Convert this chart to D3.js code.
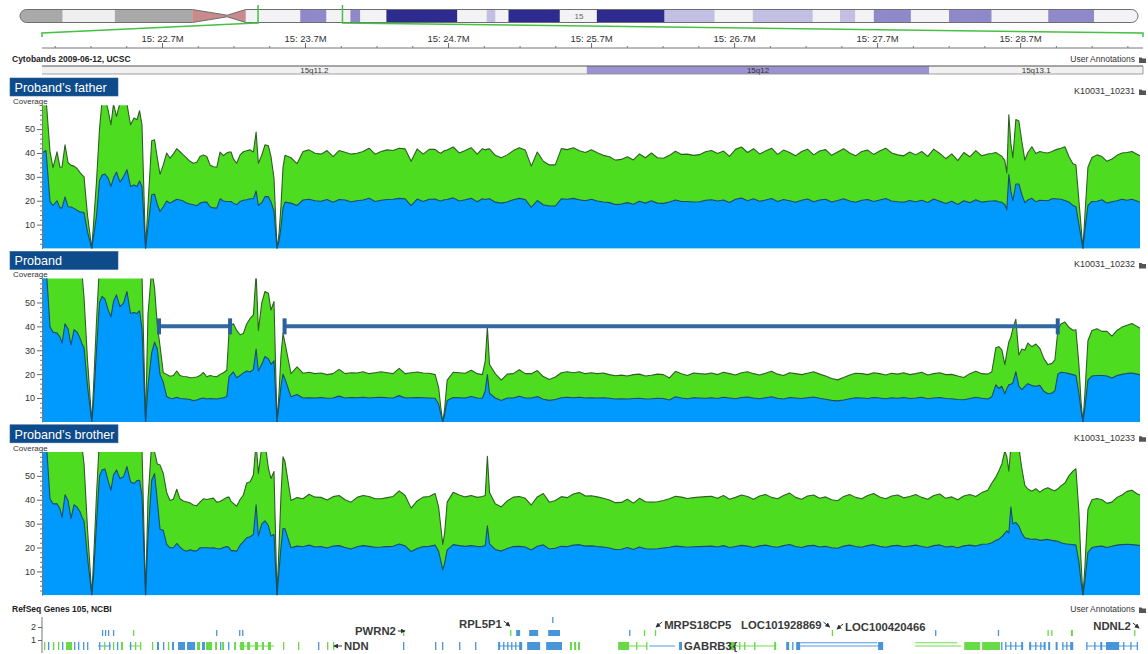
<!DOCTYPE html>
<html>
<head>
<meta charset="utf-8">
<script src="https://cdn.jsdelivr.net/npm/d3@7"></script>
<style>
  body { margin: 0; background: #fff; }
  svg { display: block; font-family: "Liberation Sans", Arial, Helvetica, sans-serif; }
</style>
</head>
<body>
<svg id="chart" width="1148" height="654"></svg>
<script>
// ---------- chromosome 15 ideogram (Mb) ----------
const ideoBandStart = [0, 3.9, 8.7, 15.8, 19.0, 20.7, 25.7, 28.1, 30.3, 31.2, 33.6, 40.1, 42.8, 43.6, 44.8, 49.5, 52.9, 59.1, 63.7, 67.2, 72.7, 75.2, 76.6, 78.3, 81.7, 85.2, 89.1, 94.3, 98.5];
const ideoBandEnd   = [3.9, 8.7, 15.8, 19.0, 20.7, 25.7, 28.1, 30.3, 31.2, 33.6, 40.1, 42.8, 43.6, 44.8, 49.5, 52.9, 59.1, 63.7, 67.2, 72.7, 75.2, 76.6, 78.3, 81.7, 85.2, 89.1, 94.3, 98.5, 102.53];
const ideoBandStain = ['gvar','stalk','gvar','acen','acen','gneg','gpos50','gneg','gpos50','gneg','gpos75','gneg','gpos25','gneg','gpos75','gneg','gpos75','gpos25','gneg','gpos25','gneg','gpos25','gneg','gpos50','gneg','gpos50','gneg','gpos50','gneg'];
const chromLength = 102.53;

// ---------- visible region (kb) and axis ticks ----------
const viewStartKb = 21833, viewEndKb = 29573;
const majorTicksKb = [22700, 23700, 24700, 25700, 26700, 27700, 28700];
const minorTicksKb = [21950, 22200, 22450, 22950, 23200, 23450, 23950, 24200, 24450, 24950, 25200, 25450, 25950, 26200, 26450, 26950, 27200, 27450, 27950, 28200, 28450, 28950, 29200, 29450];

// ---------- cytobands in view ----------
const cytoName  = ['15q11.2', '15q12', '15q13.1'];
const cytoStart = [20700, 25670, 28065];
const cytoEnd   = [25670, 28065, 30300];
const cytoStain = ['gneg', 'gpos50', 'gneg'];

// ---------- coverage bins (kb) ----------
const positionsKb = [
21861,21889,21917,21938,21966,21987,22001,22022,22043,22064,22085,22106,22127,22141,22155,22179,22209,
22221,22242,22263,22281,22301,22323,22343,22361,22382,22406,22431,22455,22480,22504,22525,22543,22560,22585,
22602,22628,22648,22667,22686,22709,22733,22756,22779,22803,22826,22849,22873,22896,22919,22943,22966,22989,23013,23036,23059,23083,23106,23129,23153,23169,23183,23199,23222,23246,23269,23292,23316,23339,23358,23374,23397,23420,23444,23462,23483,23504,
23518,23532,23546,23560,23602,23644,23686,23728,23770,23812,23854,23896,23938,23980,24022,24064,24106,24148,24190,24232,24274,24316,24358,24400,24442,24484,24526,24568,24610,24634,24650,24663,24676,24694,24736,24778,24820,24862,24904,24940,24960,24975,24990,
25030,25072,25114,25156,25198,25240,25282,25324,25366,25408,25450,25492,25534,25576,25618,25660,25702,25744,25786,25828,25870,25912,25954,25996,26038,26080,26122,26164,26206,26248,26290,26332,26374,26416,26458,26500,26542,26584,26626,26668,26710,26752,26794,26836,26878,26920,26962,27004,27046,27088,27130,27172,27214,27256,27298,27340,27382,27424,27466,27508,27550,27592,27634,27676,27718,27760,27802,27844,27886,27928,27970,28012,28054,28096,28138,28180,28222,28264,28306,28348,28390,28432,
28474,28502,28530,28551,28572,28593,28607,28621,28635,28649,28670,28691,28712,28733,28754,28782,28810,28838,28866,28894,28922,28943,28964,28985,29013,29041,29069,29090,29111,29125,29139,
29153,29174,29202,29237,29272,29307,29342,29377,29412,29447,29482,29517,29538];

// total coverage (green) and forward-strand coverage (blue) per sample
const fatherTotal = [
66,63,40.6,33.8,40.5,34,34,43.4,36,34.8,34.5,33.5,31.8,30.8,30,14,0,
10,28,50,62,63,58,51.8,60.5,55.3,61,61,60.5,51.8,54.6,53.9,57.7,51.8,0,
18,45.1,45.5,38,31.1,35,40,37.8,39.5,41.8,40.5,39.2,37.8,36.5,35.7,36.1,38.5,39.2,38.5,35,34.2,34,40.4,38.9,40,40.4,40.4,37.5,35.7,39.2,40.5,40.9,41.3,40.4,48.8,35.7,39,43.4,43,38.5,29.5,0,
6,18,34,39,38,35.5,40.6,41.3,39.9,39.5,41,38.5,41,40.3,39.5,39.9,40.6,42,39.5,40.6,41.3,41,42,41.7,36.5,41.7,39.5,41.5,41.5,40.3,39.9,40.5,41,41.2,42.5,40,41,42.2,39.5,41.8,41.3,41.6,41.7,
39,38,39.2,41,42.2,41.2,34.5,40.4,36.5,35,35,41.8,41.4,42.2,40.9,40.2,41.3,40.1,39,38.4,37,37.3,38.4,37.1,39.6,38,40,38,37.8,39,40.7,39.4,39.5,39,39.3,40.5,41,39.8,40.8,38.6,41.5,42.5,40.2,41.8,39.6,40.8,42,39.4,41.2,40.2,38.8,40.6,41.6,39.2,40.8,41.4,39,40.4,41.8,40,38.8,40.6,41.2,39.4,40.8,42,40,39.2,38.8,40.4,39.2,40.6,38.6,41.6,39.8,37.6,39.6,36.8,40.2,38.4,41,38.8,
39.6,39.8,40.2,39.4,38.6,36.8,31.6,56,44,38,54,53.4,44.8,37,40.2,42.6,39.8,40.6,40.2,40,40.6,41.2,41.6,42,42.6,38.5,35.5,35,20,10,0,
14,34,38.1,39.2,38.5,36.5,37.5,39,40,40.2,40.6,39.5,38.8];
const fatherForward = [
40,41,19.6,18,20,17,17,21.6,17.5,17.4,16.8,16,15.3,15.3,15,7,0,
5,13.5,28.5,30.8,31.2,29.5,26,29.5,32,27.8,30,33,26,26.6,26,28.3,26,0,
9,22.5,22.8,18.5,15.5,17.5,19.9,19,19.8,20.6,20.3,19.9,19,18.6,18.3,17.9,19,19.4,19.4,17.5,17,16.9,20.8,19.9,19.7,19.7,19.7,19,18.3,19.7,20.2,20.4,20.8,20.8,24.1,18,19.2,21.7,21.7,19.5,15.6,0,
3,9,17,19.4,19,18,20.3,20.6,20,19.8,20.5,19.4,20.5,20.3,19.6,20,20.3,21,19.7,20.2,20.5,20.6,21,20.8,18,20.7,19.7,20.6,20.7,20.1,19.9,20.2,20.4,20.5,21.2,19.9,20.4,21,19.6,20.8,20.5,20.7,20.8,
19.4,19,19.5,20.4,21,20.5,17.2,20.1,18.3,17.8,17.8,20.8,20.6,21,20.4,20,20.6,19.9,19.5,19.2,18.4,18.6,19.2,18.5,19.8,19,20,19,18.9,19.5,20.3,19.7,19.7,19.5,19.6,20.2,20.4,19.9,20.3,19.3,20.6,21.1,20,20.8,19.8,20.3,20.9,19.7,20.5,20,19.4,20.2,20.7,19.6,20.3,20.6,19.5,20.1,20.8,19.9,19.4,20.2,20.5,19.7,20.3,20.9,19.9,19.6,19.4,20.1,19.6,20.2,19.3,20.7,19.8,18.8,19.8,18.4,20,19.2,20.4,19.4,
19.8,19.9,20,19.6,19.3,18.4,16.2,31,24,20,27,27,22.5,19.2,20.3,21,19.6,20.2,20.1,20,20.8,20.8,20.7,20.6,20.1,19.5,18,17.5,10,5,0,
8,18,19.7,19.8,20.4,19,19.6,20,20.6,20.2,20.6,19.9,19.4];

const probandTotal = [
70,70,68,67,66,66,66,66,66,66,66,66,65,62,52,26,0,
14,42,66,68,68,66,66,66,67,67,67,67,66,66,66,66,62,0,
45,64,56,40.4,31.9,20.6,19.9,19.1,19.4,21.3,19.4,19,18.9,18.5,18.6,18.8,19.4,20.7,18.9,19.4,19.1,18.9,19.9,20.6,21.6,38,40.4,41.1,38.3,36.5,37,41,43.3,44.8,62,38.3,49.7,54.6,53.9,46.8,50.4,0,
12,28,37,33,20.2,23,20.4,20.8,20.2,20.5,19.8,20.2,22,20.2,20.6,20.5,21,20.2,20.6,21,20.6,20.2,22.4,20.2,20.6,20.9,20.5,20.4,19.8,14.5,5.7,0,5.5,17.5,20.8,20.6,20.4,21.6,20.2,19.8,25.5,39.7,24,
20.2,17.5,20,20.2,21.8,20.2,20.2,21.5,19,17.8,18.8,20.6,21,20.6,21,20.2,20.6,20.2,20.5,19.8,19.3,19.6,19.2,19.8,20,19.2,19.5,20,19.8,18.4,21.2,20.2,19.4,20.5,20.2,20,20.5,19.8,20.8,20.2,19.6,20.6,21,20.2,19.6,20.4,21.2,20,19.4,20.6,20.2,19.8,20.4,21,20,19.2,18.2,17.6,18.6,19.6,20.4,20.2,19.8,20.6,20.2,19.6,20.4,20,20.6,19.8,20.2,20.8,19.6,20.2,20.6,19.8,19.9,19.2,18.6,20.2,21.2,20.2,
20,21,31,31.5,30.2,24,29,33.5,35.5,39.1,43,28,30.5,30,33,31.5,32.6,30.8,26.5,24,24.5,26,38.5,41,41.8,39.6,38.4,38.6,24,9,0,
12,34,38.3,39,37.9,37.9,35.9,38.3,39.7,40.5,41.2,40,39.2];
const probandForward = [
68,66,39.7,37.6,37.2,35.5,33,41.1,39,32.2,38.6,37.6,35,32.6,31,15,0,
8,30,50,52.5,51.5,47,44,50.4,53.2,48.3,49.7,54.6,45.4,45.8,45.4,46.5,39,0,
15,29,33.4,30.5,19.9,16.6,10.6,9.9,9.8,10.3,9.8,9.7,9.6,9.4,8.9,9.2,9.7,10,9.6,9.8,9.7,9.6,9.9,10.1,10.6,19,19.9,20.9,18.5,19.4,20.5,21.3,20.9,22,30.5,21.3,24.1,27.4,26.4,24.1,25.6,0,
7,15,20,18,10.5,11.5,10,10.1,10,10.2,9.9,10,10.8,10,10.2,10.1,10.3,10,10.2,10.3,10.1,10,11,10,10.1,10.2,10.1,10,9.9,7.5,3,0,3,9,10.2,10.1,10,10.6,10,9.9,13,19.8,12,
10,9,10,10,10.7,10,10,10.6,9.5,9,9.4,10.1,10.3,10.1,10.3,10,10.1,10,10.1,9.9,9.6,9.7,9.6,9.8,9.9,9.6,9.7,9.9,9.8,9.2,10.5,10,9.7,10.1,10,9.9,10.1,9.8,10.3,10,9.7,10.2,10.4,10,9.7,10.1,10.5,9.9,9.6,10.2,10,9.8,10.1,10.4,9.9,9.5,9,8.8,9.2,9.7,10.1,10,9.8,10.2,10,9.7,10.1,9.9,10.2,9.8,10,10.3,9.7,10,10.2,9.8,9.7,9.4,9.3,9.8,10.3,9.9,
9.6,10.5,15.5,14,14.9,11.8,14,15.6,15.8,16.3,21,15,13.5,14.9,16,15.2,14.9,15.3,12.8,11.8,12.1,13,20,20.8,20.6,20.2,19.8,19.4,12,5,0,
6,17.5,19.2,19.4,19.4,19.2,18.4,19.4,19.9,20.3,20.5,20,19.7];

const brotherTotal = [
70,70,68,67,66,66,66,66,66,66,66,66,65,62,55,28,0,
14,42,66,68,68,66,66,66,67,67,67,67,66,66,66,66,62,0,
40,64,60,55,54.6,51,43,39.7,40.2,44.4,40.4,39.5,39.1,38.7,37.8,37.5,39,40.4,40.1,40.4,40.7,39,39.3,40.1,41,41.1,39.3,38.5,37.3,40.1,42,47,47.5,50.4,64,51,62,64,53.2,48.9,51.8,0,
20,42,58,56,39.7,40.9,40.4,42.3,41.1,41,39.9,41.3,41.8,40,39,41,41.8,41.4,40.4,40.4,40.9,41.4,43.7,41.8,36.5,39.5,41.1,41.4,42.6,37,28.4,21.3,26,39,43.1,42,41.2,41.8,41,41.4,41.8,58.2,43,
38.3,37,39.5,41.1,41.4,40.6,37.8,41.2,42.6,39,39.7,41.3,40.9,42.4,43,41.6,41.7,41.2,40.6,39.9,38.8,38.9,40.2,38.6,40.6,39.2,39,39.2,39.7,40.4,41.5,41.1,40.5,40.9,41.1,41.3,41.5,40.6,41.8,40.2,41,42,41.4,40.2,41.6,42.2,41,40.4,41.8,42.8,41,40.2,41.6,42,40.6,41.2,40,39.6,41.4,42.2,41,40.4,41.8,42.6,41.2,40.4,41.6,42,40.8,41.4,42.2,41,40.2,41.8,42.4,40.6,41.2,40,41.6,42.2,41.4,43,
44,47,49.5,52,55,60.5,58,52,62,64,64,62,53,46,44.5,43.6,44.6,43.2,44.4,45,44.2,43.8,44.6,45.8,47,50,52,53,35,15,0,
12,36,40,40.5,40,38.5,39,41,42,43.5,44,42.5,42];
const brotherForward = [
68,66,40.4,38.3,38.3,36.2,32.6,42.1,39.7,32.2,37.9,36.9,35,32.6,31,16,0,
8,30,50,52.5,52.9,48,44,50.4,52.5,48.9,49.6,53.9,47.5,46.8,48,48.2,41.8,0,
24,48.2,51,39.7,27.7,27.2,21.3,19.9,19.9,21.7,20.2,19,18.4,19.1,18.6,18.6,19.9,19.9,19.9,19.8,19.9,19.6,19.4,20,20.4,20,18.7,18.7,18.4,21,22.5,24.1,24.5,25.5,37.9,24.8,29.8,31.2,29.1,24.8,25.5,0,
10,20,28,27.8,19.9,20.6,20.3,21,20.2,20.4,19.8,20.6,20.8,20,19.4,20.3,20.8,20.5,20.1,20.2,20.4,20.5,21.5,20.7,18.3,19.6,20.4,20.5,21,18.4,14.2,10.6,13.5,19,21.2,20.8,20.5,20.8,20.4,20.5,20.8,29.1,21.5,
19.2,18.5,19.6,20.4,20.5,20.2,19,20.5,21.1,19.4,19.7,20.5,20.4,21,21.2,20.6,20.7,20.4,20.2,19.8,19.2,19.3,20,19.2,20.2,19.5,19.4,19.5,19.8,20.1,20.6,20.4,20.1,20.3,20.4,20.5,20.6,20.2,20.8,20,20.4,20.9,20.6,20,20.7,21,20.4,20.1,20.8,21.3,20.4,20,20.7,20.9,20.2,20.5,19.9,19.7,20.6,21,20.4,20.1,20.8,21.2,20.5,20.1,20.7,20.9,20.3,20.6,21,20.4,20,20.8,21.1,20.2,20.5,19.9,20.7,21,20.6,21.4,
21.5,22,23,23.5,24.5,26,27,26,37,30,30.5,29,26,24,23.8,23.4,23.6,23,23.2,23.4,23,22.8,22.6,22,21.6,21.4,21.2,21,14,6,0,
6,18,20,20.4,20.6,20,20.5,21,21.2,21.4,21.2,21,20.8];

const sampleNames = ['Proband’s father', 'Proband', 'Proband’s brother'];
const sampleIds   = ['K10031_10231', 'K10031_10232', 'K10031_10233'];
const yTickValues = [10, 20, 30, 40, 50];

// regions flagged on the proband track (kb) at coverage level 40
const cnvStartKb = [22679, 23557];
const cnvEndKb   = [23176, 28963];
const cnvLevel = 40;

// ---------- RefSeq gene parts: [startKb, endKb, row, strand, kind] ----------
const geneParts = [
[21875,21882,0,'m','e'],[21903,21910,0,'p','e'],[21938,21945,0,'m','e'],[21973,21980,0,'m','e'],[22001,22008,0,'p','e'],
[22029,22071,0,'m','e'],[22085,22092,0,'p','e'],[22113,22120,0,'p','e'],[22148,22155,0,'p','e'],[22176,22183,0,'p','e'],
[22253,22343,0,'p','i'],[22260,22267,0,'p','e'],[22295,22302,0,'m','e'],[22330,22337,0,'p','e'],[22357,22364,0,'m','e'],
[22385,22392,0,'p','e'],[22413,22427,0,'m','e'],[22469,22553,0,'m','i'],[22476,22483,0,'p','e'],[22511,22518,0,'m','e'],
[22546,22553,0,'m','e'],[22630,22637,0,'m','e'],[22665,22679,0,'p','e'],[22707,22714,0,'p','e'],[22742,22749,0,'m','e'],
[22770,22784,0,'p','e'],[22812,22861,0,'p','e'],[22875,22931,0,'p','e'],[22945,22966,0,'m','e'],[22980,23000,0,'p','e'],
[23008,23050,0,'m','e'],[23071,23085,0,'m','e'],[23106,23113,0,'p','e'],[23120,23134,0,'m','e'],[23162,23169,0,'p','e'],
[23204,23218,0,'m','e'],[23239,23483,0,'m','i'],[23246,23274,0,'m','e'],[23295,23316,0,'m','e'],[23350,23372,0,'m','e'],
[23399,23413,0,'m','e'],[23441,23462,0,'m','e'],[23546,23553,0,'m','e'],[23651,23658,0,'m','e'],[23791,23798,0,'p','e'],
[23854,23861,0,'m','e'],[23896,23903,0,'m','e'],[24385,24392,0,'p','e'],[24609,24616,0,'p','e'],[24658,24665,0,'p','e'],
[24777,24784,0,'p','e'],[24889,24896,0,'p','e'],[25050,25218,0,'p','i'],[25050,25064,0,'p','e'],[25085,25092,0,'p','e'],
[25113,25120,0,'p','e'],[25141,25148,0,'p','e'],[25169,25176,0,'p','e'],[25197,25218,0,'p','e'],[25253,25344,0,'p','e'],
[25386,25497,0,'p','e'],[25553,25567,0,'m','e'],[25581,25595,0,'m','e'],[25609,25623,0,'m','e'],[25889,25966,0,'m','e'],
[25966,26092,0,'m','i'],[26015,26022,0,'m','e'],[26085,26092,0,'m','e'],[26106,26288,0,'p','i'],[26315,26336,0,'p','e'],
[26658,26994,0,'m','i'],[26665,26700,0,'m','e'],[26735,26742,0,'m','e'],[26770,26777,0,'m','e'],[26840,26847,0,'m','e'],
[26980,26994,0,'m','e'],[27064,27085,0,'p','e'],[27106,27113,0,'p','e'],[27134,27162,0,'p','e'],[27162,27742,0,'p','i'],
[27162,27700,0.25,'p','i'],[27707,27742,0,'p','e'],[27966,28288,0,'m','i'],[27966,28260,0.25,'m','i'],[28309,28420,0,'m','e'],
[28434,28560,0,'m','e'],[28567,28574,0,'p','e'],[28595,28721,0,'p','i'],[28595,28602,0,'p','e'],[28630,28637,0,'p','e'],
[28665,28672,0,'p','e'],[28707,28721,0,'p','e'],[28763,28878,0,'p','i'],[28763,28777,0,'p','e'],[28805,28812,0,'p','e'],
[28840,28847,0,'p','e'],[28864,28878,0,'p','e'],[28896,28910,0,'p','e'],[28948,28962,0,'p','e'],[28994,29071,0,'p','i'],
[28994,29001,0,'p','e'],[29022,29029,0,'p','e'],[29050,29071,0,'p','e'],[29162,29522,0,'p','i'],[29162,29169,0,'p','e'],
[29218,29225,0,'p','e'],[29260,29274,0,'p','e'],[29300,29356,0,'p','e'],[29356,29392,0,'p','e'],[29420,29427,0,'p','e'],
[29470,29477,0,'p','e'],[29515,29522,0,'p','e'],
[22280,22285,1,'p','e'],[22301,22306,1,'p','e'],[22322,22327,1,'p','e'],[22357,22362,1,'p','e'],[22497,22502,1,'m','e'],
[23078,23083,1,'p','e'],[23239,23244,1,'p','e'],[23260,23265,1,'p','e'],[24385,24390,1,'m','e'],[25134,25139,1,'m','e'],
[25176,25204,1,'p','e'],[25267,25330,1,'p','e'],[25400,25483,1,'p','e'],[25966,25971,1,'p','e'],[26069,26074,1,'m','e'],
[26146,26151,1,'m','e'],[27383,27388,1,'m','e'],[28105,28110,1,'p','e'],[28544,28549,1,'p','e'],[28891,28896,1,'m','e'],
[28917,28922,1,'m','e'],[29055,29069,1,'m','e'],[29497,29502,1,'m','e'],
[25428,25434,2,'p','e']];

const geneLabelName = ['NDN', 'PWRN2', 'RPL5P1', 'MRPS18CP5', 'LOC101928869', 'LOC100420466', 'GABRB3', 'NDNL2'];
const geneLabelKb   = [23973, 24050, 24777, 26211, 26749, 27476, 26350, 29211];

// ---------- drawing ----------
const svg = d3.select('#chart');
const defs = svg.append('defs');
defs.append('marker').attr('id', 'arrowHead').attr('viewBox', '0 0 6 6')
  .attr('refX', 5).attr('refY', 3).attr('markerWidth', 5).attr('markerHeight', 5).attr('orient', 'auto')
  .append('path').attr('d', 'M0,0 L6,3 L0,6 Z').attr('fill', '#333');

const x = d3.scaleLinear().domain([viewStartKb, viewEndKb]).range([38, 1145]);
const trackLeft = 42, trackRight = 1143;

function folderIcon(px, py) {
  svg.append('path')
    .attr('d', `M${px},${py} h2.5 l1,1 h3.5 v4.5 h-7 Z`)
    .attr('fill', '#555');
}

// ideogram
const stainColor = { gvar: '#a9a9a9', stalk: '#efefef', acen: '#c98a8e', gneg: '#f3f3f6',
                     gpos25: '#c3bfe2', gpos50: '#8f88c9', gpos75: '#2d2b8d' };
const xi = d3.scaleLinear().domain([0, chromLength]).range([20, 1138]);
const iTop = 9.5, iBot = 22.5, iMid = 16, iR = 6.5;
const cA = xi(15.8), cM = xi(19.0), cB = xi(20.7), iL = xi(0), iE = xi(chromLength);
const chromPath = `M${iL + iR},${iTop} L${cA},${iTop} L${cM},${iMid - 0.8} L${cB},${iTop} L${iE - iR},${iTop}
  A${iR},${iR} 0 0 1 ${iE - iR},${iBot} L${cB},${iBot} L${cM},${iMid + 0.8} L${cA},${iBot} L${iL + iR},${iBot}
  A${iR},${iR} 0 0 1 ${iL + iR},${iTop} Z`;
defs.append('clipPath').attr('id', 'chromClip').append('path').attr('d', chromPath);
svg.append('g').attr('clip-path', 'url(#chromClip)')
  .selectAll('rect').data(ideoBandStart).join('rect')
  .attr('x', (d) => xi(d)).attr('y', iTop)
  .attr('width', (d, k) => xi(ideoBandEnd[k]) - xi(d) + 0.3).attr('height', iBot - iTop)
  .attr('fill', (d, k) => stainColor[ideoBandStain[k]]);
svg.append('path').attr('d', chromPath).attr('fill', 'none').attr('stroke', '#6d6d6d').attr('stroke-width', 1);
svg.append('text').attr('x', xi(chromLength / 2)).attr('y', 19).attr('text-anchor', 'middle')
  .attr('font-size', 8).attr('fill', '#666').text('15');

// highlighted region on the ideogram, fanned out to the track width
const hlColor = '#46c046';
svg.append('path')
  .attr('d', `M${xi(viewStartKb / 1000)},5 V23 L${trackLeft},33 V37`)
  .attr('fill', 'none').attr('stroke', hlColor).attr('stroke-width', 1.5);
svg.append('path')
  .attr('d', `M${xi(viewEndKb / 1000)},5 V23 L${trackRight},33 V37`)
  .attr('fill', 'none').attr('stroke', hlColor).attr('stroke-width', 1.5);

// genomic position axis
const axisY = 48;
svg.append('line').attr('x1', trackLeft).attr('x2', trackRight).attr('y1', axisY).attr('y2', axisY)
  .attr('stroke', '#777');
const majorAxis = svg.append('g').attr('transform', `translate(0,${axisY})`)
  .call(d3.axisTop(x).tickValues(majorTicksKb).tickSize(5).tickSizeOuter(0).tickPadding(1.5)
    .tickFormat((d) => `15: ${(d / 1000).toFixed(1)}M`));
majorAxis.select('.domain').remove();
majorAxis.selectAll('line').attr('stroke', '#666');
majorAxis.selectAll('text').attr('font-size', 9.5).attr('fill', '#333')
  .attr('font-family', '"Liberation Sans", Arial, sans-serif');
const minorAxis = svg.append('g').attr('transform', `translate(0,${axisY})`)
  .call(d3.axisTop(x).tickValues(minorTicksKb).tickSize(2).tickSizeOuter(0).tickFormat(''));
minorAxis.select('.domain').remove();
minorAxis.selectAll('line').attr('stroke', '#777');

// cytoband track
svg.append('text').attr('x', 12).attr('y', 62).attr('font-size', 8.5).attr('font-weight', 'bold')
  .attr('fill', '#222').text('Cytobands 2009-06-12, UCSC');
svg.append('text').attr('x', 1135).attr('y', 62).attr('font-size', 8.5).attr('text-anchor', 'end')
  .attr('fill', '#333').text('User Annotations');
folderIcon(1139, 57.5);
const cytoTop = 66, cytoBot = 74;
const cytoFill = { gneg: '#f1f1f1', gpos50: '#9b92d0' };
const cytoG = svg.append('g');
cytoG.selectAll('rect').data(cytoName).join('rect')
  .attr('x', (d, k) => Math.max(trackLeft, x(cytoStart[k])))
  .attr('width', (d, k) => Math.min(trackRight, x(cytoEnd[k])) - Math.max(trackLeft, x(cytoStart[k])))
  .attr('y', cytoTop).attr('height', cytoBot - cytoTop)
  .attr('fill', (d, k) => cytoFill[cytoStain[k]]);
cytoG.selectAll('text').data(cytoName).join('text')
  .attr('x', (d, k) => (Math.max(trackLeft, x(cytoStart[k])) + Math.min(trackRight, x(cytoEnd[k]))) / 2)
  .attr('y', cytoBot - 1).attr('text-anchor', 'middle').attr('font-size', 8).attr('fill', '#333')
  .text((d) => d);
svg.append('line').attr('x1', trackLeft).attr('x2', trackRight).attr('y1', cytoTop).attr('y2', cytoTop)
  .attr('stroke', '#555').attr('stroke-width', 1.2);
svg.append('line').attr('x1', trackLeft).attr('x2', trackRight).attr('y1', cytoBot).attr('y2', cytoBot)
  .attr('stroke', '#888').attr('stroke-width', 0.8);
svg.append('line').attr('x1', trackRight).attr('x2', trackRight).attr('y1', cytoTop).attr('y2', cytoBot)
  .attr('stroke', '#888').attr('stroke-width', 0.8);

// coverage panels
const totals = [fatherTotal, probandTotal, brotherTotal];
const forwards = [fatherForward, probandForward, brotherForward];
const panelStep = 173.4;
const greenFill = '#4ddc20', greenLine = '#2d5f22';
const blueFill = '#0099fe', blueLine = '#1c4b6e';

sampleNames.forEach((name, i) => {
  const headY = 78 + panelStep * i;
  const top = 105.2 + panelStep * i;
  const bottom = top + 143.3;
  const y = d3.scaleLinear().domain([0, 60]).range([bottom, top]);
  const g = svg.append('g');

  g.append('rect').attr('x', 10).attr('y', headY).attr('width', 108).attr('height', 18)
    .attr('fill', '#0e4b8a').attr('stroke', '#2b5f9a').attr('stroke-width', 0.6);
  g.append('text').attr('x', 14.5).attr('y', headY + 13.8).attr('font-size', 12.6).attr('fill', '#fff').text(name);
  g.append('text').attr('x', 13).attr('y', top - 1.5).attr('font-size', 8).attr('fill', '#333').text('Coverage');
  g.append('text').attr('x', 1135).attr('y', headY + 16).attr('font-size', 9).attr('text-anchor', 'end')
    .attr('fill', '#333').text(sampleIds[i]);
  folderIcon(1139, headY + 11.5);

  const clipId = `panelClip${i}`;
  defs.append('clipPath').attr('id', clipId).append('rect')
    .attr('x', trackLeft).attr('y', top).attr('width', 1141 - trackLeft).attr('height', bottom - top);

  const pts = positionsKb.map((pos, k) => ({ pos, t: totals[i][k], f: forwards[i][k] }));
  const plot = g.append('g').attr('clip-path', `url(#${clipId})`);
  const areaT = d3.area().x((d) => x(d.pos)).y0(bottom).y1((d) => y(d.t));
  const areaF = d3.area().x((d) => x(d.pos)).y0(bottom).y1((d) => y(d.f));
  const lineT = d3.line().x((d) => x(d.pos)).y((d) => y(d.t));
  const lineF = d3.line().x((d) => x(d.pos)).y((d) => y(d.f));
  plot.append('path').datum(pts).attr('d', areaT).attr('fill', greenFill);
  plot.append('path').datum(pts).attr('d', areaF).attr('fill', blueFill);
  plot.append('path').datum(pts).attr('d', lineT).attr('fill', 'none').attr('stroke', greenLine)
    .attr('stroke-width', 1.1).attr('stroke-linejoin', 'round');
  plot.append('path').datum(pts).attr('d', lineF).attr('fill', 'none').attr('stroke', blueLine)
    .attr('stroke-width', 1.1).attr('stroke-linejoin', 'round');

  // y axis with minor ticks
  const minor = d3.range(2, 60, 2).filter((v) => v % 10 !== 0);
  const yMinor = g.append('g').attr('transform', `translate(${trackLeft},0)`)
    .call(d3.axisLeft(y).tickValues(minor).tickSize(2).tickSizeOuter(0).tickFormat(''));
  yMinor.selectAll('line').attr('stroke', '#777');
  yMinor.select('.domain').remove();
  const yAxis = g.append('g').attr('transform', `translate(${trackLeft},0)`)
    .call(d3.axisLeft(y).tickValues(yTickValues).tickSize(5).tickSizeOuter(0).tickPadding(2));
  yAxis.select('.domain').attr('stroke', '#777');
  yAxis.selectAll('line').attr('stroke', '#666');
  yAxis.selectAll('text').attr('font-size', 9).attr('fill', '#333')
    .attr('font-family', '"Liberation Sans", Arial, sans-serif');

  if (i === 1) {
    const cnvG = g.append('g');
    const yc = y(cnvLevel);
    cnvStartKb.forEach((s, k) => {
      const x1 = x(s), x2 = x(cnvEndKb[k]);
      cnvG.append('line').attr('x1', x1).attr('x2', x2).attr('y1', yc).attr('y2', yc)
        .attr('stroke', '#3468a3').attr('stroke-width', 4);
      [x1, x2].forEach((xc) => {
        cnvG.append('rect').attr('x', xc - 2).attr('y', yc - 8).attr('width', 4).attr('height', 16)
          .attr('fill', '#2c5f9e');
      });
    });
  }
});

// RefSeq genes track
svg.append('text').attr('x', 12).attr('y', 612).attr('font-size', 8.5).attr('font-weight', 'bold')
  .attr('fill', '#222').text('RefSeq Genes 105, NCBI');
svg.append('text').attr('x', 1135).attr('y', 612).attr('font-size', 8.5).attr('text-anchor', 'end')
  .attr('fill', '#333').text('User Annotations');
folderIcon(1139, 607.5);

const rowY = (r) => 646 - 13 * r;
const gy = d3.scaleLinear().domain([1, 2]).range([640, 627]);
const gAxis = svg.append('g').attr('transform', `translate(${trackLeft},0)`)
  .call(d3.axisLeft(gy).tickValues([1, 2]).tickSize(4).tickSizeOuter(0).tickPadding(2).tickFormat(d3.format('d')));
gAxis.select('.domain').attr('d', 'M0,617V653').attr('stroke', '#777');
gAxis.selectAll('line').attr('stroke', '#666');
gAxis.selectAll('text').attr('font-size', 9).attr('fill', '#333')
  .attr('font-family', '"Liberation Sans", Arial, sans-serif');

const strandColor = { p: '#3f8fd8', m: '#5fd83b' };
const genesG = svg.append('g');
genesG.selectAll('rect').data(geneParts).join('rect')
  .attr('x', (d) => x(d[0]))
  .attr('width', (d) => Math.max(1.3, x(d[1]) - x(d[0])))
  .attr('y', (d) => {
    const h = d[4] === 'i' ? 1 : (d[2] === 0 ? 8 : 6);
    return rowY(d[2]) - h / 2;
  })
  .attr('height', (d) => (d[4] === 'i' ? 1 : (d[2] === 0 ? 8 : 6)))
  .attr('fill', (d) => strandColor[d[3]])
  .attr('opacity', (d) => (d[4] === 'i' ? 0.9 : 0.95));

// gene names with pointer arrows
const labelBaseline = { NDN: 650, PWRN2: 635, RPL5P1: 628, MRPS18CP5: 629, LOC101928869: 629, LOC100420466: 631, GABRB3: 650, NDNL2: 630 };
const arrowSide = { NDN: 'left', PWRN2: 'right', RPL5P1: 'downRight', MRPS18CP5: 'downLeft', LOC101928869: 'downRight', LOC100420466: 'downLeft', GABRB3: 'none', NDNL2: 'downRight' };
geneLabelName.forEach((name, k) => {
  const tx = x(geneLabelKb[k]);
  const by = labelBaseline[name];
  const t = svg.append('text').attr('x', tx).attr('y', by).attr('font-size', 11.3).attr('font-weight', 'bold')
    .attr('fill', '#3a3a3a').text(name);
  const w = t.node().getComputedTextLength();
  const side = arrowSide[name];
  let seg = null;
  if (side === 'left') seg = [tx - 2, by - 4, tx - 10, by - 4];
  if (side === 'right') seg = [tx + w + 2, by - 4, tx + w + 9, by - 4];
  if (side === 'downRight') seg = [tx + w + 2, by - 7, tx + w + 8, by - 2];
  if (side === 'downLeft') seg = [tx - 2, by - 7, tx - 8, by - 2];
  if (seg) {
    svg.append('line').attr('x1', seg[0]).attr('y1', seg[1]).attr('x2', seg[2]).attr('y2', seg[3])
      .attr('stroke', '#333').attr('stroke-width', 1).attr('marker-end', 'url(#arrowHead)');
  }
  if (name === 'GABRB3') {
    svg.append('text').attr('x', tx + w + 1).attr('y', by).attr('font-size', 11.3).attr('font-weight', 'bold')
      .attr('fill', '#3a3a3a').text('{');
  }
});
</script>
</body>
</html>
